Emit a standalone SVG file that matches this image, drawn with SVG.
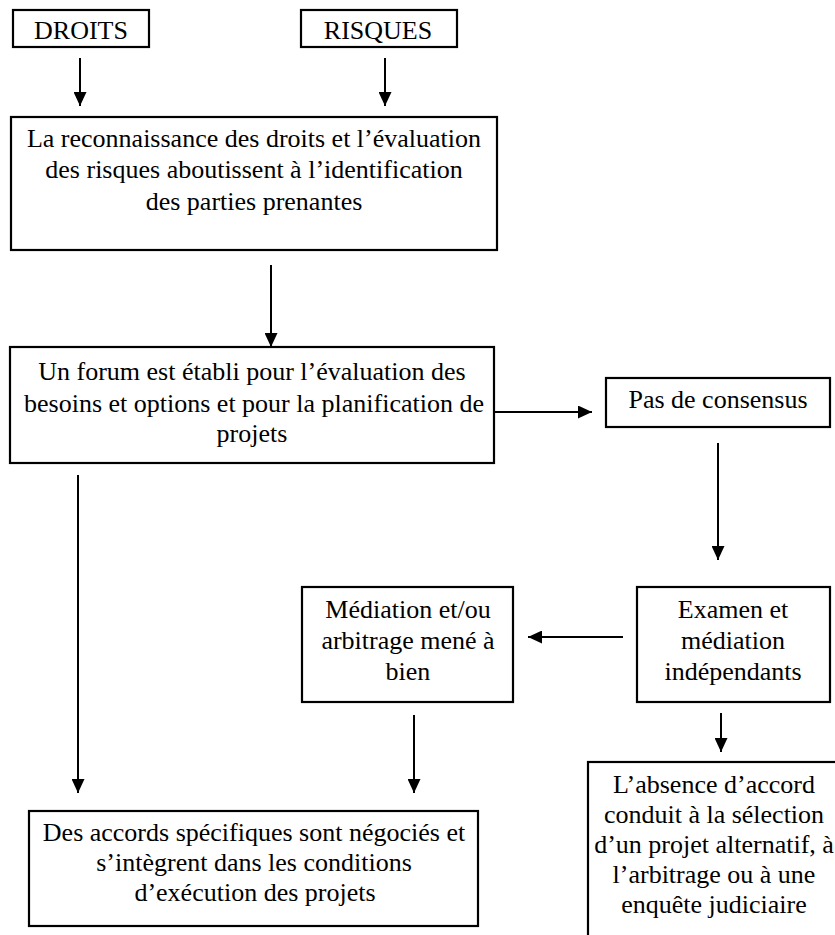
<svg xmlns="http://www.w3.org/2000/svg" width="835" height="935" viewBox="0 0 835 935">
  <style>
    .box { fill: #ffffff; stroke: #000000; stroke-width: 2.2; }
    .t { font-family: "Liberation Serif", "Times New Roman", serif; font-size: 26px; fill: #000000; text-anchor: middle; }
    .c { stroke: #000000; stroke-width: 2; fill: none; marker-end: url(#ah); }
  </style>
  <defs>
    <marker id="ah" markerUnits="userSpaceOnUse" markerWidth="14" markerHeight="13" refX="14" refY="6.5" orient="auto">
      <path d="M0,0 L14,6.5 L0,13 Z" fill="#000000"/>
    </marker>
  </defs>
  <rect width="835" height="935" fill="#ffffff"/>

  <g id="n-droits">
    <rect class="box" x="13" y="10" width="136" height="37"/>
    <text class="t" x="81" y="39">DROITS</text>
  </g>
  <g id="n-risques">
    <rect class="box" x="301" y="10" width="156" height="37"/>
    <text class="t" x="378" y="39">RISQUES</text>
  </g>
  <g id="n-reconnaissance">
    <rect class="box" x="11" y="117" width="486" height="133"/>
    <text class="t" x="254" y="147">La reconnaissance des droits et l’évaluation</text>
    <text class="t" x="254" y="178">des risques aboutissent à l’identification</text>
    <text class="t" x="254" y="210">des parties prenantes</text>
  </g>
  <g id="n-forum">
    <rect class="box" x="10" y="347" width="484" height="116"/>
    <text class="t" x="252" y="380">Un forum est établi pour l’évaluation des</text>
    <text class="t" x="254" y="412">besoins et options et pour la planification de</text>
    <text class="t" x="252" y="442">projets</text>
  </g>
  <g id="n-consensus">
    <rect class="box" x="606" y="378" width="224" height="49"/>
    <text class="t" x="718" y="408">Pas de consensus</text>
  </g>
  <g id="n-examen">
    <rect class="box" x="637" y="587" width="193" height="115"/>
    <text class="t" x="733" y="618">Examen et</text>
    <text class="t" x="733" y="649">médiation</text>
    <text class="t" x="733" y="680">indépendants</text>
  </g>
  <g id="n-mediation">
    <rect class="box" x="302" y="587" width="211" height="115"/>
    <text class="t" x="408" y="618">Médiation et/ou</text>
    <text class="t" x="408" y="649">arbitrage mené à</text>
    <text class="t" x="408" y="680">bien</text>
  </g>
  <g id="n-accords">
    <rect class="box" x="29" y="811" width="449" height="115"/>
    <text class="t" x="254" y="841">Des accords spécifiques sont négociés et</text>
    <text class="t" x="254" y="871">s’intègrent dans les conditions</text>
    <text class="t" x="255" y="901">d’exécution des projets</text>
  </g>
  <g id="n-absence">
    <rect class="box" x="588" y="762" width="262" height="200"/>
    <text class="t" x="714" y="793">L’absence d’accord</text>
    <text class="t" x="714" y="823">conduit à la sélection</text>
    <text class="t" x="714" y="853">d’un projet alternatif, à</text>
    <text class="t" x="714" y="883">l’arbitrage ou à une</text>
    <text class="t" x="714" y="913">enquête judiciaire</text>
  </g>

  <g id="connectors">
    <line class="c" x1="80" y1="58" x2="80" y2="106"/>
    <line class="c" x1="385" y1="58" x2="385" y2="106"/>
    <line class="c" x1="271" y1="265" x2="271" y2="347"/>
    <line class="c" x1="494" y1="412" x2="592" y2="412"/>
    <line class="c" x1="718" y1="443" x2="718" y2="560"/>
    <line class="c" x1="623" y1="637" x2="528" y2="637"/>
    <line class="c" x1="78" y1="475" x2="78" y2="793"/>
    <line class="c" x1="414" y1="715" x2="414" y2="793"/>
    <line class="c" x1="721" y1="713" x2="721" y2="752"/>
  </g>
</svg>
